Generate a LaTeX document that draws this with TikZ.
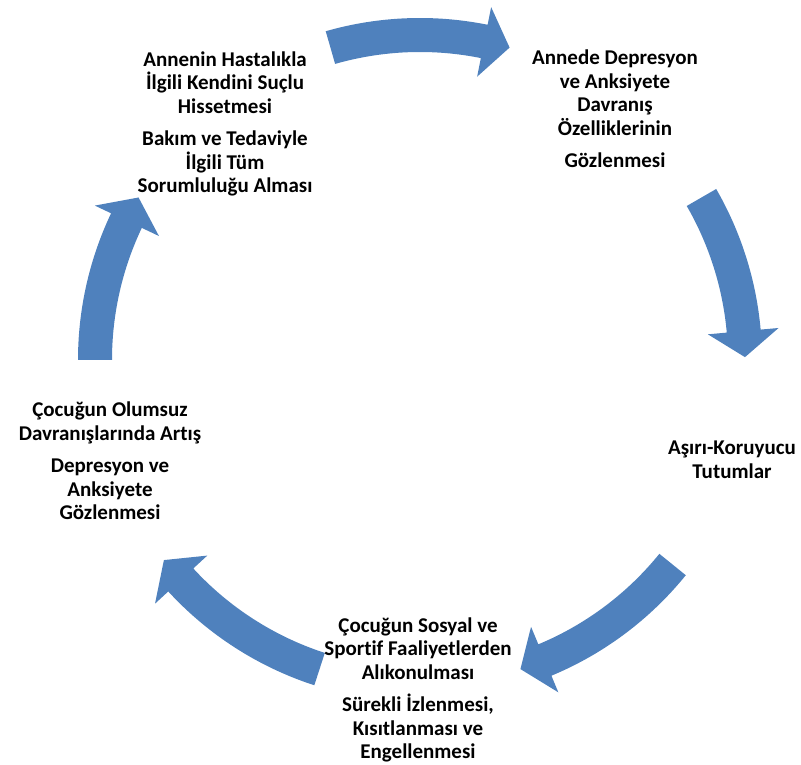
\documentclass[tikz,border=0pt]{standalone}
\usepackage{fontspec}
\setmainfont[Ligatures=NoCommon]{Carlito}
\usepackage{xcolor}
\usetikzlibrary{calc}

\definecolor{cycleblue}{RGB}{79,129,189}

% curved block arrow round (ctr): tail angle, tip angle
\newcommand{\cyclearrow}[2]{%
  \pgfmathsetmacro{\headbase}{#2+4.6}
  \fill[cycleblue] ($(ctr)+(#1:342pt)$) arc[start angle=#1, end angle=\headbase, radius=342pt]
    -- ($(ctr)+(\headbase:360pt)$) -- ($(ctr)+(#2:325pt)$) -- ($(ctr)+(\headbase:289pt)$)
    -- ($(ctr)+(\headbase:308pt)$) arc[start angle=\headbase, end angle=#1, radius=308pt] -- cycle;
}

\begin{document}
\begin{tikzpicture}[
    x=1pt, y=1pt,
    txt/.style={font=\fontsize{21}{23.5}\selectfont\bfseries, align=center, inner sep=0pt}
]
\useasboundingbox (0,0) rectangle (801,765);

\coordinate (ctr) at (420,405);

% arrows of the cycle
\cyclearrow{106}{74}
\cyclearrow{30}{0.5}
\cyclearrow{-39}{-72}
\cyclearrow{252}{218}
\cyclearrow{180}{150}

% texts
\node[txt] (observe) at (615,656) {Annede Depresyon\\ve Anksiyete\\Davranış\\Özelliklerinin\\[9pt]Gözlenmesi};
\node[txt] (protect) at (732,305) {Aşırı-Koruyucu\\Tutumlar};
\node[txt] (restrict) at (418,75) {Çocuğun Sosyal ve\\Sportif Faaliyetlerden\\Alıkonulması\\[9pt]Sürekli İzlenmesi,\\Kısıtlanması ve\\Engellenmesi};
\node[txt] (childneg) at (110,304) {Çocuğun Olumsuz\\Davranışlarında Artış\\[9pt]Depresyon ve\\Anksiyete\\Gözlenmesi};
\node[txt] (guilt) at (225,641) {Annenin Hastalıkla\\İlgili Kendini Suçlu\\Hissetmesi\\[9pt]Bakım ve Tedaviyle\\İlgili Tüm\\Sorumluluğu Alması};

\end{tikzpicture}
\end{document}
